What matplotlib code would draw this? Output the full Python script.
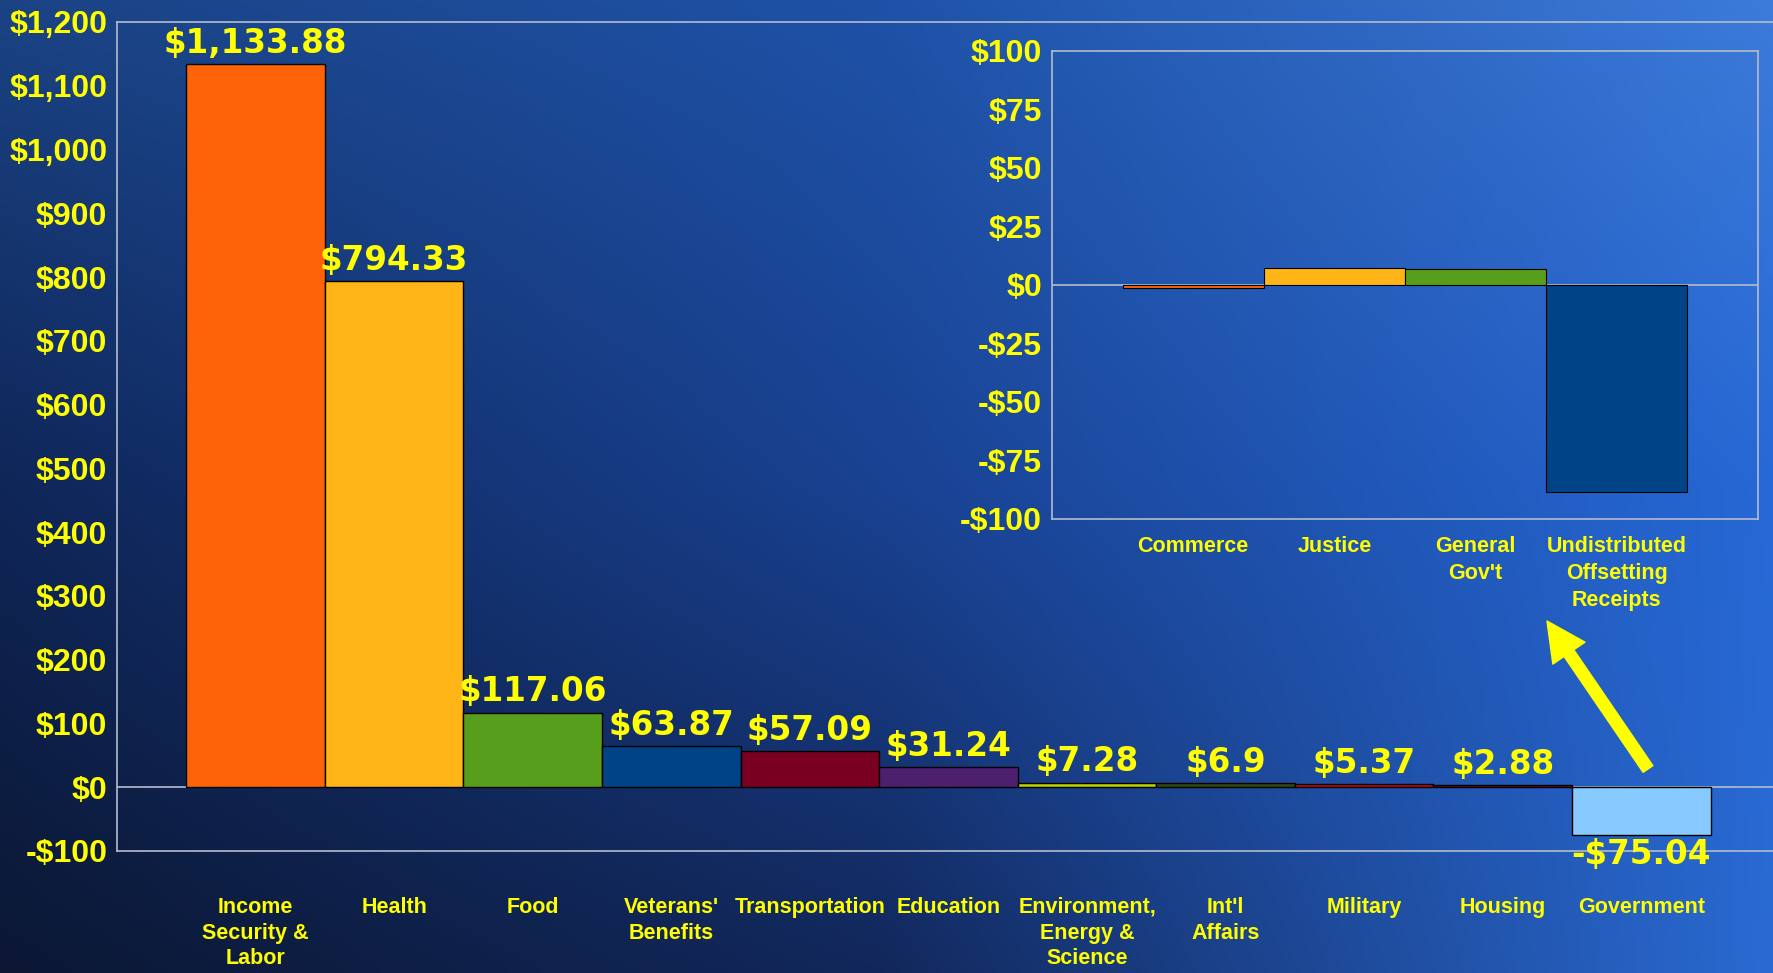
import numpy as np
import matplotlib.pyplot as plt
from matplotlib.ticker import FixedLocator, FuncFormatter

# ── Data ─────────────────────────────────────────────────────────────────────
categories = ["Income\nSecurity &\nLabor", "Health", "Food", "Veterans'\nBenefits",
              "Transportation", "Education", "Environment,\nEnergy &\nScience",
              "Int'l\nAffairs", "Military", "Housing", "Government"]
values = [1133.88, 794.33, 117.06, 63.87, 57.09, 31.24, 7.28, 6.9, 5.37, 2.88, -75.04]
value_labels = ["$1,133.88", "$794.33", "$117.06", "$63.87", "$57.09", "$31.24",
                "$7.28", "$6.9", "$5.37", "$2.88", "-$75.04"]
bar_colors = ["#FF6309", "#FFB418", "#569E1C", "#004386", "#7A0022", "#4E1F6E",
              "#B9D000", "#2E4A0E", "#D0001A", "#8B0020", "#87CAFF"]

inset_categories = ["Commerce", "Justice", "General\nGov't",
                    "Undistributed\nOffsetting\nReceipts"]
inset_values = [-1.3, 7.2, 7.0, -88.5]
inset_colors = ["#FF6309", "#FFB418", "#569E1C", "#004386"]

main_ticks = list(range(-100, 1201, 100))
inset_ticks = list(range(-100, 101, 25))

YELLOW = "#FFFF00"
SPINE = "#b4bccc"
NARROW = ["Liberation Sans Narrow", "Liberation Sans", "DejaVu Sans"]


def money(v, pos=None):
    s = f"${abs(v):,.0f}"
    return "-" + s if v < 0 else s


# ── Figure + gradient background ─────────────────────────────────────────────
fig = plt.figure(figsize=(17.73, 9.73), dpi=100)

# 3x3 colour grid (rows top -> bottom, cols left -> right), smoothed bilinearly
grid = np.array([
    [[27, 67, 132], [30, 82, 168], [61, 123, 217]],
    [[15, 38, 88], [25, 66, 146], [38, 104, 214]],
    [[11, 23, 51], [18, 40, 92], [42, 106, 210]],
], dtype=float) / 255.0
h, w = 200, 360
yy = np.linspace(0, 2, h)[:, None]
xx = np.linspace(0, 2, w)[None, :]
y0 = np.clip(np.floor(yy).astype(int), 0, 1)
x0 = np.clip(np.floor(xx).astype(int), 0, 1)
fy = (yy - y0)[..., None]
fx = (xx - x0)[..., None]
y0b = np.broadcast_to(y0, (h, w))
x0b = np.broadcast_to(x0, (h, w))
img = (grid[y0b, x0b] * (1 - fy) * (1 - fx) + grid[y0b, x0b + 1] * (1 - fy) * fx
       + grid[y0b + 1, x0b] * fy * (1 - fx) + grid[y0b + 1, x0b + 1] * fy * fx)

bg = fig.add_axes([0, 0, 1, 1])
bg.imshow(img, aspect="auto", extent=[0, 1, 0, 1], interpolation="bilinear")
bg.axis("off")

# ── Main chart ───────────────────────────────────────────────────────────────
ax = fig.add_axes([0.066, 0.1254, 0.934, 0.852])
ax.patch.set_alpha(0)
x = np.arange(len(values))
ax.bar(x, values, width=1.0, color=bar_colors, edgecolor="black", linewidth=1, zorder=3)
ax.axhline(0, color=SPINE, linewidth=1.2, zorder=1)
ax.set_xlim(-1, 10.95)
ax.set_ylim(-100, 1200)

for xi, v, lab in zip(x, values, value_labels):
    if v >= 0:
        ax.annotate(lab, (xi, v), xytext=(0, 3), textcoords="offset points",
                    ha="center", va="bottom", color=YELLOW, fontsize=23.5,
                    fontweight="bold", zorder=5)
    else:
        ax.annotate(lab, (xi, v), xytext=(0, -2), textcoords="offset points",
                    ha="center", va="top", color=YELLOW, fontsize=23.5,
                    fontweight="bold", zorder=5)

ax.yaxis.set_major_locator(FixedLocator(main_ticks))
ax.yaxis.set_major_formatter(FuncFormatter(money))
ax.set_xticks(x)
ax.set_xticklabels(categories, linespacing=1.3)
ax.tick_params(axis="y", length=0, pad=7, colors=YELLOW, labelsize=23)
ax.tick_params(axis="x", length=0, pad=33, colors=YELLOW, labelsize=15.5)
for t in ax.get_yticklabels() + ax.get_xticklabels():
    t.set_family(NARROW)
    t.set_fontweight("bold")
for t in ax.get_xticklabels():
    t.set_verticalalignment("top")
ax.spines["right"].set_visible(False)
for s in ["left", "top", "bottom"]:
    ax.spines[s].set_color(SPINE)
    ax.spines[s].set_linewidth(1.2)

# ── Inset chart ──────────────────────────────────────────────────────────────
ax2 = fig.add_axes([0.5933, 0.4666, 0.3982, 0.481])
ax2.patch.set_alpha(0)
xi2 = np.arange(len(inset_values))
ax2.bar(xi2, inset_values, width=1.0, color=inset_colors, edgecolor="black",
        linewidth=0.8, zorder=3)
ax2.axhline(0, color=SPINE, linewidth=1.2, zorder=1)
ax2.set_xlim(-1, 4)
ax2.set_ylim(-100, 100)
ax2.yaxis.set_major_locator(FixedLocator(inset_ticks))
ax2.yaxis.set_major_formatter(FuncFormatter(money))
ax2.set_xticks(xi2)
ax2.set_xticklabels(inset_categories, linespacing=1.4)
ax2.tick_params(axis="y", length=0, pad=7, colors=YELLOW, labelsize=23)
ax2.tick_params(axis="x", length=0, pad=12, colors=YELLOW, labelsize=15.5)
for t in ax2.get_yticklabels() + ax2.get_xticklabels():
    t.set_family(NARROW)
    t.set_fontweight("bold")
for t in ax2.get_xticklabels():
    t.set_verticalalignment("top")
for s in ax2.spines.values():
    s.set_color(SPINE)
    s.set_linewidth(1.2)

# ── Arrow pointing from Government bar up to the inset ───────────────────────
bg.annotate("", xy=(1547 / 1773, 1 - 621 / 973), xytext=(1648 / 1773, 1 - 769 / 973),
            xycoords="figure fraction", textcoords="figure fraction",
            arrowprops=dict(facecolor=YELLOW, edgecolor=YELLOW, width=8.5,
                            headwidth=28, headlength=28, shrink=0),
            annotation_clip=False, zorder=10)

fig.savefig("out.png", dpi=100)
plt.close(fig)
